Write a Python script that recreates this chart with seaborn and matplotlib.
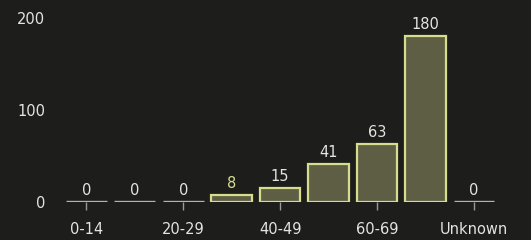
import matplotlib
matplotlib.use("Agg")
import matplotlib.pyplot as plt
import seaborn as sns
import pandas as pd

categories = ["0-14", "15-19", "20-29", "30-39", "40-49", "50-59", "60-69", "70+", "Unknown"]
values = [0, 0, 0, 8, 15, 41, 63, 180, 0]
shown_ticks = ["0-14", "20-29", "40-49", "60-69", "Unknown"]
y_ticks = [0, 100, 200]

BG = "#1d1d1b"
FILL = "#5e5e44"
EDGE = "#d6de8e"
ZERO_EDGE = "#b4b4ac"
TXT = "#e4e4e0"

sns.set_theme(style="dark")
plt.rcParams["font.family"] = ["DejaVu Sans"]

df = pd.DataFrame({"cat": categories, "val": values})

fig = plt.figure(figsize=(5.31, 2.40), dpi=100, facecolor=BG)
ax = fig.add_axes([0.117, 0.158, 0.821, 0.769])
ax.set_facecolor(BG)

sns.barplot(data=df, x="cat", y="val", order=categories, color=FILL,
            width=0.84, ax=ax, saturation=1)

for p, v in zip(ax.patches, values):
    if v == 0:
        p.set_edgecolor(ZERO_EDGE)
        p.set_linewidth(2.4)
    else:
        p.set_edgecolor(EDGE)
        p.set_linewidth(1.6)
    col = EDGE if v == 8 else TXT
    ax.annotate(str(v), (p.get_x() + p.get_width() / 2, v),
                xytext=(0, 3), textcoords="offset points",
                ha="center", va="bottom", fontsize=10.5, color=col)

ax.set_ylim(0, 200)
ax.set_xlim(-0.5, len(categories) - 0.5)
ax.set_yticks(y_ticks)
ax.set_yticklabels([str(t) for t in y_ticks])
pos = [categories.index(c) for c in shown_ticks]
ax.set_xticks(pos)
ax.set_xticklabels(shown_ticks)
ax.tick_params(axis="y", length=0, pad=12, labelsize=10.5, labelcolor=TXT)
ax.tick_params(axis="x", length=6, width=1, color="#9a9a96", pad=8,
               labelsize=10.5, labelcolor=TXT, bottom=True)
ax.set_xlabel("")
ax.set_ylabel("")
ax.grid(False)
for s in ax.spines.values():
    s.set_visible(False)

fig.savefig("out.png", dpi=100, facecolor=BG)
